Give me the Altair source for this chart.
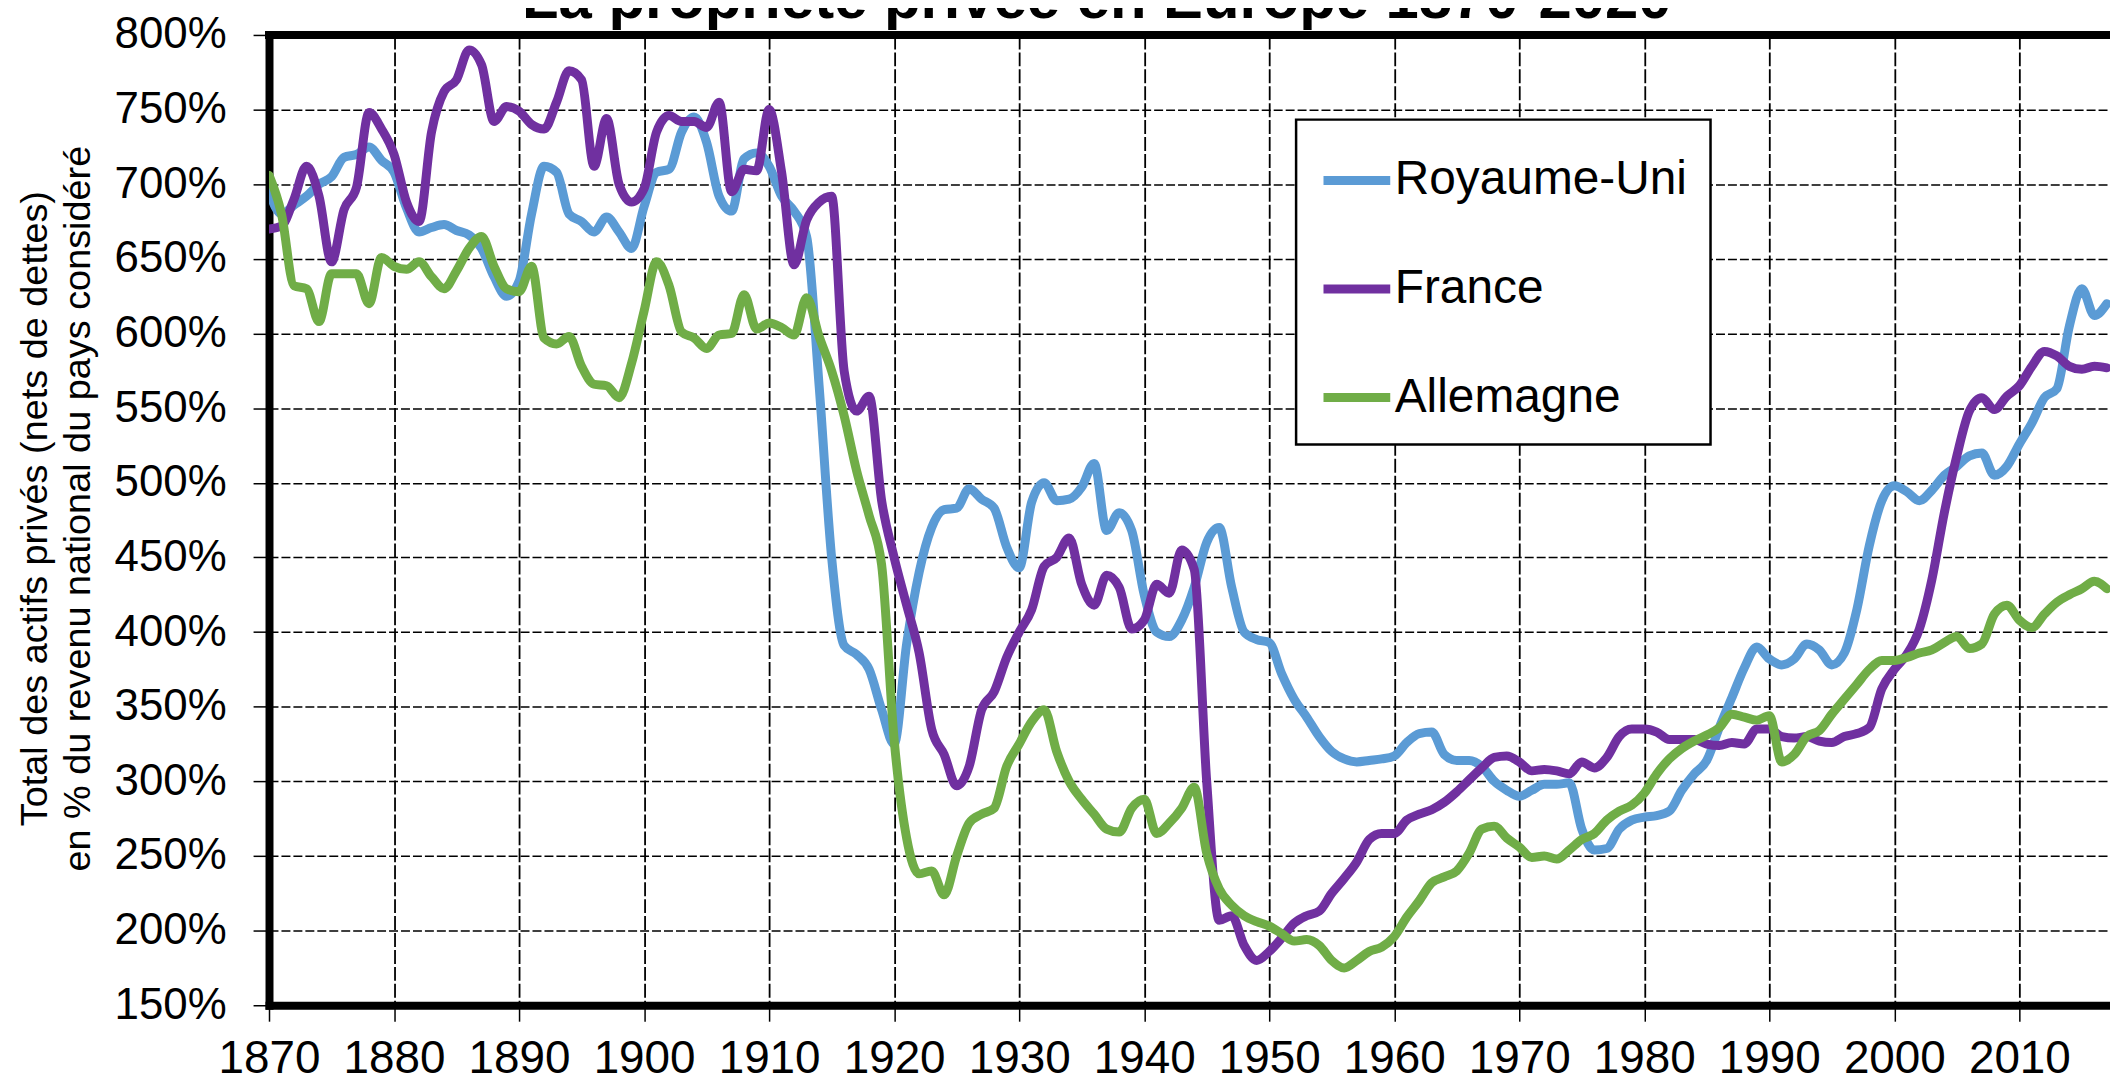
import altair as alt
import pandas as pd

years = list(range(1870, 2018))
pays = ["Royaume-Uni", "France", "Allemagne"]
couleurs = ["#5B9BD5", "#7030A0", "#70AD47"]

royaume_uni = [
    695, 680, 686, 692, 700, 705, 718, 720, 725, 716,
    708, 684, 668, 671, 673, 669, 666, 657, 638, 625,
    635, 680, 712, 708, 680, 675, 668, 678, 668, 657,
    685, 708, 710, 735, 745, 728, 692, 682, 717, 721,
    712, 692, 682, 665, 565, 450, 391, 385, 375, 348,
    325, 392, 440, 470, 482, 483, 496, 489, 483, 457,
    443, 487, 500, 488, 489, 497, 513, 468, 480, 468,
    425, 400, 397, 408, 430, 460, 470, 430, 400, 395,
    393, 372, 355, 343, 330, 320, 315, 313, 314, 315,
    317, 326, 332, 333, 318, 314, 314, 310, 300, 294,
    290, 294, 298, 298, 299, 268, 254, 255, 268, 274,
    276, 277, 280, 294, 305, 314, 336, 356, 376, 390,
    382, 378, 382, 392, 388, 378, 386, 415, 458, 488,
    498, 494, 488, 495, 505, 511, 518, 520, 505, 511,
    526, 540, 557, 563, 605, 630, 612, 620,
]
france = [
    670, 672, 690, 712, 692, 648, 683, 698, 748, 737,
    720, 688, 675, 735, 762, 770, 790, 780, 742, 752,
    749, 740, 737, 755, 776, 770, 712, 744, 700, 688,
    697, 735, 746, 742, 742, 738, 755, 695, 710, 709,
    750, 708, 646, 676, 688, 692, 575, 548, 558, 488,
    450, 418, 386, 335, 318, 297, 310, 348, 360, 383,
    400, 415, 444, 450, 463, 432, 418, 438, 430, 402,
    408, 432, 426, 455, 442, 300, 207, 210, 190, 180,
    186, 195, 205, 210, 213, 225, 235, 246, 261, 265,
    265, 274, 278, 281, 286, 293, 301, 309, 316, 317,
    313, 307, 308, 307, 305, 313, 309, 316, 330, 335,
    335, 333, 328, 328, 328, 325, 324, 326, 325, 335,
    335, 330, 329, 330, 327, 326, 330, 332, 336, 362,
    375, 385, 402, 435, 480, 518, 548, 557, 549, 558,
    565, 578, 588, 585, 578, 576, 578, 577,
]
allemagne = [
    706, 680, 632, 630, 608, 640, 640, 640, 620, 651,
    645, 643, 648, 638, 630, 642, 657, 665, 645, 630,
    628, 645, 597, 593, 598, 578, 566, 565, 557, 580,
    615, 648, 632, 601, 597, 590, 599, 600, 626, 603,
    607, 604, 599, 624, 598, 575, 545, 508, 478, 445,
    328, 262, 238, 240, 224, 250, 272, 278, 282, 310,
    325, 340, 348, 320, 300, 288, 278, 268, 266, 282,
    288, 265, 272, 282, 296, 252, 228, 217, 210, 206,
    203, 198, 193, 194, 190, 180, 175, 180, 186, 189,
    196, 209, 220, 232, 236, 240, 252, 268, 270, 262,
    256, 249, 250, 248, 254, 261, 265, 274, 280, 284,
    292, 305, 315, 322, 327, 331, 336, 345, 343, 341,
    344, 313, 318, 330, 334, 345, 355, 365, 375, 381,
    381, 383, 386, 388, 393, 397, 389, 392, 412, 418,
    408, 403, 412, 420, 425, 429, 434, 429,
]

x_ticks = list(range(1870, 2011, 10))
y_ticks = list(range(150, 801, 50))
titre = "La propriété privée en Europe 1870-2020"
titre_y = ["Total des actifs privés (nets de dettes)",
           "en % du revenu national du pays considéré"]

rows = []
for name, vals in zip(pays, [royaume_uni, france, allemagne]):
    for yr, v in zip(years, vals):
        rows.append({"annee": yr, "valeur": v, "pays": name})
df = pd.DataFrame(rows)

FONT = "Liberation Sans"

x_scale = alt.Scale(domain=[1870, 2017.25], nice=False, zero=False)
y_scale = alt.Scale(domain=[150, 800], nice=False, zero=False)

x_axis = alt.Axis(
    values=x_ticks, format="d", title=None,
    labelFont=FONT, labelFontSize=46, labelColor="black", labelPadding=16,
    labelFlush=False, labelOverlap=False,
    tickSize=16, tickWidth=1.5, tickColor="black",
    domainWidth=8, domainColor="black", domainCap="square",
    grid=True, gridColor="black", gridWidth=1.8, gridDash=[14, 3],
)
y_axis = alt.Axis(
    values=y_ticks, labelExpr="datum.value + '%'",
    title=titre_y, titleFont=FONT, titleFontSize=38, titleFontWeight="normal",
    titleColor="black", titleAngle=270, titleAlign="center", titleBaseline="top",
    titleLineHeight=43, titleX=-253, titleY=475,
    labelFont=FONT, labelFontSize=44, labelColor="black", labelPadding=27,
    labelOverlap=False,
    tickSize=16, tickWidth=1.5, tickColor="black",
    domainWidth=8, domainColor="black", domainCap="square",
    grid=True, gridColor="black", gridWidth=1.5, gridDash=[9, 3],
)

lines = alt.Chart(df).mark_line(
    strokeWidth=9, interpolate="monotone", strokeCap="round",
    strokeJoin="round", clip=True,
).encode(
    x=alt.X("annee:Q", scale=x_scale, axis=x_axis),
    y=alt.Y("valeur:Q", scale=y_scale, axis=y_axis),
    color=alt.Color(
        "pays:N",
        scale=alt.Scale(domain=pays, range=couleurs),
        sort=pays,
        legend=alt.Legend(
            title=None, orient="none", legendX=1031, legendY=85,
            symbolType="stroke", symbolSize=4489, symbolStrokeWidth=9,
            labelFont=FONT, labelFontSize=48, labelColor="black",
            labelLimit=600, labelOffset=0, rowPadding=47, padding=23,
            strokeColor="black", fillColor="white",
        ),
    ),
)

top_frame = alt.Chart(df).mark_rule(
    strokeWidth=8, color="black", strokeCap="square"
).encode(y=alt.datum(800))

chart = alt.layer(lines, top_frame).properties(
    width=1848,
    height=974,
    autosize=alt.AutoSizeParams(type="none"),
    padding={"left": 262, "top": 25, "right": 0, "bottom": 79},
    title=alt.TitleParams(
        text=titre, font=FONT, fontSize=60, fontWeight="bold", color="black",
        anchor="start", frame="group", baseline="alphabetic", offset=0,
        dx=254, dy=65,
    ),
).configure_view(strokeWidth=0).configure_legend(strokeWidth=2.5)

chart.save("out.html", embed_options={"renderer": "svg", "actions": False})
